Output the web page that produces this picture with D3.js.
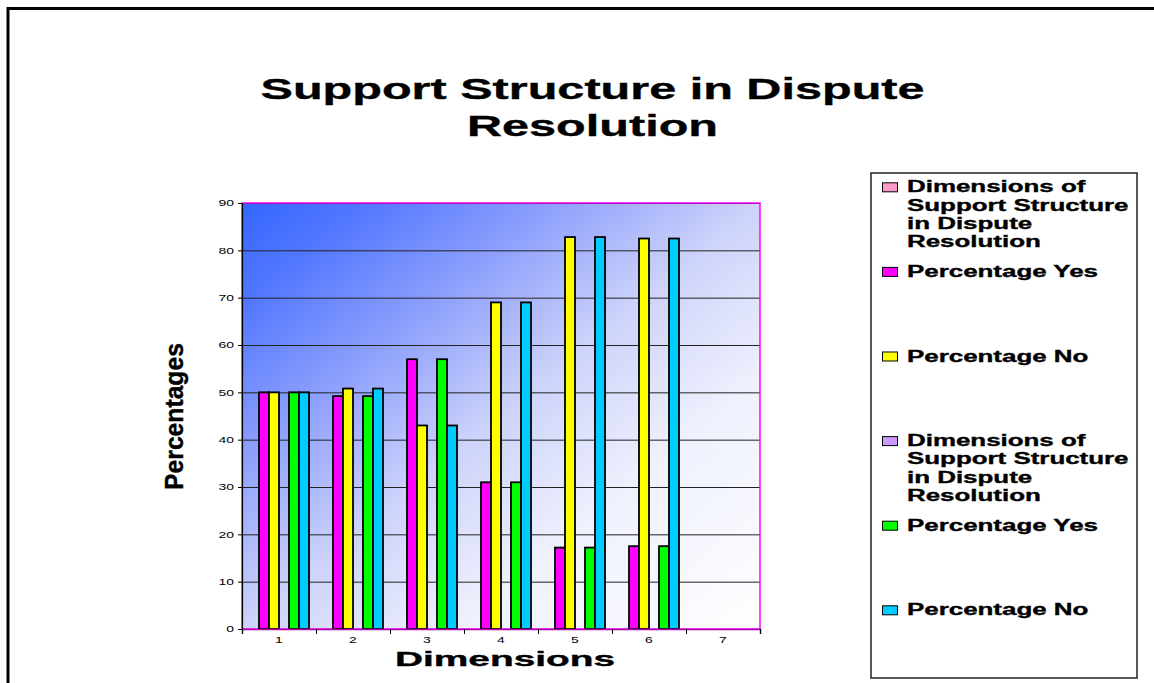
<!DOCTYPE html>
<html>
<head>
<meta charset="utf-8">
<script src="https://cdn.jsdelivr.net/npm/d3@7"></script>
<style>
  body { margin: 0; background: #fff; }
  text { font-family: "Liberation Sans", Arial, sans-serif; }
</style>
</head>
<body>
<svg id="chart" width="1154" height="683"></svg>
<script>
// chart data
var titleLines = ['Support Structure in Dispute', 'Resolution'];
var categories = ['1', '2', '3', '4', '5', '6', '7'];
var seriesNames = [
    'Dimensions of Support Structure in Dispute Resolution',
    'Percentage Yes',
    'Percentage No',
    'Dimensions of Support Structure in Dispute Resolution',
    'Percentage Yes',
    'Percentage No'
];
var seriesColors = ['#ff99cc', '#ff00ff', '#ffff00', '#cc99ff', '#00ff00', '#00ccff'];
var dimensionValues = [null, null, null, null, null, null, null];
var percentYes = [50, 49.2, 57, 31, 17.2, 17.5, null];
var percentNo = [50, 50.8, 43, 69, 82.8, 82.5, null];
var seriesValues = [dimensionValues, percentYes, percentNo, dimensionValues, percentYes, percentNo];
var yTicks = [0, 10, 20, 30, 40, 50, 60, 70, 80, 90];

var svg = d3.select('#chart');
var plot = {left: 242, top: 203, right: 760, bottom: 629};
var stretch = 1.62;   // the source glyphs are drawn wide

// outer frame
svg.append('rect')
    .attr('x', 8).attr('y', 8.5)
    .attr('width', 1300).attr('height', 900)
    .attr('fill', 'none').attr('stroke', '#000').attr('stroke-width', 3);

// helper for horizontally stretched bold text
function wideText(g, str, x, y, size, sx, anchor) {
    return g.append('text')
        .attr('transform', 'translate(' + x + ',' + y + ') scale(' + sx + ',1)')
        .attr('text-anchor', anchor || 'start')
        .attr('font-size', size)
        .attr('font-weight', 'bold')
        .attr('stroke', '#000')
        .attr('stroke-width', 0.35)
        .text(str);
}

// title
titleLines.forEach(function(line, i) {
    wideText(svg, line, 592.5, 98.5 + i * 37.5, 30, stretch, 'middle');
});

// plot background
var defs = svg.append('defs');
var grad = defs.append('linearGradient')
    .attr('id', 'plotBg')
    .attr('x1', 0).attr('y1', 0).attr('x2', 1).attr('y2', 1);
[[0, '#3366ff'], [0.12, '#5277ff'], [0.3, '#8d9ffc'], [0.5, '#cdd3fa'],
 [0.7, '#eef0fd'], [1, '#ffffff']].forEach(function(s) {
    grad.append('stop').attr('offset', s[0]).attr('stop-color', s[1]);
});

svg.append('rect')
    .attr('x', plot.left).attr('y', plot.top)
    .attr('width', plot.right - plot.left)
    .attr('height', plot.bottom - plot.top)
    .attr('fill', 'url(#plotBg)');

// scales
var x0 = d3.scaleBand()
    .domain(categories)
    .range([plot.left, plot.right])
    .padding(0);

var x1 = d3.scaleBand()
    .domain(d3.range(seriesNames.length))
    .range([0, x0.bandwidth()])
    .paddingInner(0)
    .paddingOuter(0.7);

var y = d3.scaleLinear()
    .domain([0, 90])
    .range([plot.bottom, plot.top]);

var edge = d3.scaleLinear()
    .domain([0, categories.length])
    .range([plot.left, plot.right]);

// gridlines
svg.append('g')
    .attr('transform', 'translate(' + plot.left + ',0)')
    .call(d3.axisLeft(y).tickValues(yTicks.slice(1)).tickSize(-(plot.right - plot.left)).tickFormat(''))
    .call(function(g) { g.select('.domain').remove(); })
    .selectAll('line')
        .attr('stroke', '#222')
        .attr('stroke-width', 1);

// plot border
svg.append('rect')
    .attr('x', plot.left).attr('y', plot.top)
    .attr('width', plot.right - plot.left)
    .attr('height', plot.bottom - plot.top)
    .attr('fill', 'none')
    .attr('stroke', '#ff00ff')
    .attr('stroke-width', 1.5);

// bars
var groups = svg.append('g').selectAll('g')
    .data(categories)
    .enter().append('g')
        .attr('transform', function(d) { return 'translate(' + x0(d) + ',0)'; });

groups.selectAll('rect')
    .data(function(d, i) {
        return seriesValues.map(function(vals, s) { return {s: s, v: vals[i]}; })
            .filter(function(e) { return e.v != null; });
    })
    .enter().append('rect')
        .attr('x', function(d) { return x1(d.s); })
        .attr('width', x1.bandwidth())
        .attr('y', function(d) { return y(d.v); })
        .attr('height', function(d) { return y(0) - y(d.v); })
        .attr('fill', function(d) { return seriesColors[d.s]; })
        .attr('stroke', '#000')
        .attr('stroke-width', 1.8);

// y axis
var yAxis = svg.append('g')
    .attr('transform', 'translate(' + plot.left + ',0)')
    .call(d3.axisLeft(y).tickValues(yTicks).tickSize(4).tickPadding(8));
yAxis.select('.domain').attr('stroke', '#000').attr('stroke-width', 1.2);
yAxis.selectAll('text')
    .attr('font-size', 9)
    .attr('fill', '#000')
    .attr('x', -8 / 1.55)
    .attr('transform', 'scale(1.55,1)');

// x axis: ticks on category edges, labels on centres
var xEdges = svg.append('g')
    .attr('transform', 'translate(0,' + plot.bottom + ')')
    .call(d3.axisBottom(edge).ticks(categories.length).tickSize(5).tickFormat(''));
xEdges.select('.domain').attr('stroke', '#b000b0').attr('stroke-width', 1.5);

var xLabels = svg.append('g')
    .attr('transform', 'translate(0,' + plot.bottom + ')')
    .call(d3.axisBottom(x0).tickSize(0).tickPadding(8));
xLabels.select('.domain').remove();
xLabels.selectAll('text')
    .attr('font-size', 9)
    .attr('fill', '#000')
    .attr('transform', 'scale(1.55,1)');

// axis titles
wideText(svg, 'Dimensions', 505, 666, 21, 1.85, 'middle');

svg.append('text')
    .attr('transform', 'translate(182.5,416.5) rotate(-90) scale(0.95,1)')
    .attr('text-anchor', 'middle')
    .attr('font-size', 26)
    .attr('font-weight', 'bold')
    .attr('stroke', '#000')
    .attr('stroke-width', 0.4)
    .text('Percentages');

// legend
var legend = {left: 871, top: 173, right: 1137, bottom: 678};
svg.append('rect')
    .attr('x', legend.left).attr('y', legend.top)
    .attr('width', legend.right - legend.left)
    .attr('height', legend.bottom - legend.top)
    .attr('fill', '#fff')
    .attr('stroke', '#222')
    .attr('stroke-width', 1.5);

var legendY = d3.scaleLinear()
    .domain([0, seriesNames.length])
    .range([legend.top + 19.3, legend.top + 19.3 + seriesNames.length * 84.6]);

var legendTextX = 907;
var maxLine = legend.right - legendTextX - 2;

seriesNames.forEach(function(name, i) {
    var base = legendY(i);
    svg.append('rect')
        .attr('x', 882.5).attr('y', base - 9.5)
        .attr('width', 15).attr('height', 9)
        .attr('fill', seriesColors[i])
        .attr('stroke', '#000')
        .attr('stroke-width', 1);

    // wrap words to the legend width
    var words = name.split(' ');
    var lines = [];
    var cur = '';
    var probe = wideText(svg, '', 0, -100, 16, stretch);
    words.forEach(function(w) {
        var test = cur ? cur + ' ' + w : w;
        probe.text(test);
        if (cur && probe.node().getComputedTextLength() * stretch > maxLine) {
            lines.push(cur);
            cur = w;
        } else {
            cur = test;
        }
    });
    lines.push(cur);
    probe.remove();

    lines.forEach(function(line, k) {
        wideText(svg, line, legendTextX, base + k * 18.3, 16, stretch);
    });
});
</script>
</body>
</html>
